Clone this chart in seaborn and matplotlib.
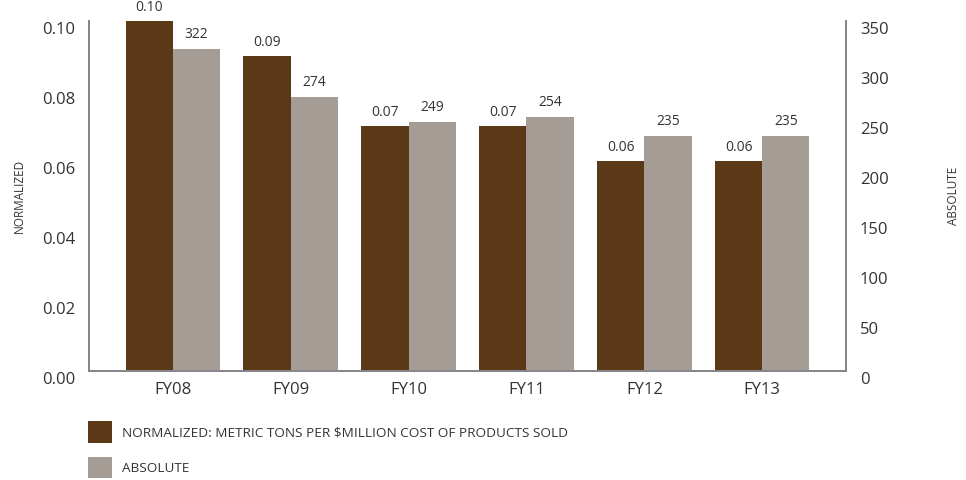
import matplotlib
matplotlib.use("Agg")
import matplotlib.pyplot as plt
import matplotlib.transforms as mtransforms
from matplotlib.patches import Patch
import pandas as pd
import seaborn as sns

years = ["FY08", "FY09", "FY10", "FY11", "FY12", "FY13"]
normalized = [0.10, 0.09, 0.07, 0.07, 0.06, 0.06]
absolute = [322, 274, 249, 254, 235, 235]
normalized_labels = ["0.10", "0.09", "0.07", "0.07", "0.06", "0.06"]
absolute_labels = ["322", "274", "249", "254", "235", "235"]
left_ticks = [0.00, 0.02, 0.04, 0.06, 0.08, 0.10]
right_ticks = [0, 50, 100, 150, 200, 250, 300, 350]

NORM = "NORMALIZED: METRIC TONS PER $MILLION COST OF PRODUCTS SOLD"
ABS = "ABSOLUTE"
BROWN = "#5c3916"
GRAY = "#a59c96"
SPINE = "#85858b"
TEXT = "#333333"

sns.set_theme(style="white")
plt.rcParams["font.family"] = ["Open Sans", "DejaVu Sans"]
plt.rcParams["text.color"] = TEXT

df_norm = pd.DataFrame({"year": years, "value": normalized, "series": NORM})
df_abs = pd.DataFrame({"year": years, "value": absolute, "series": ABS})

fig = plt.figure(figsize=(9.66, 4.8), dpi=100)
ax = fig.add_axes([89 / 966, 1 - 371 / 480, 757 / 966, 350 / 480])
ax2 = ax.twinx()

palette = {NORM: BROWN, ABS: GRAY}
common = dict(x="year", y="value", hue="series", hue_order=[NORM, ABS], palette=palette,
              width=0.8, gap=0, dodge=True, legend=False, saturation=1, errorbar=None,
              linewidth=0)
sns.barplot(data=df_norm, ax=ax, **common)
sns.barplot(data=df_abs, ax=ax2, **common)

ax.set_ylim(0, 0.10)
ax2.set_ylim(0, 350)
ax.set_xlim(-0.71, 5.71)

ax.set_yticks(left_ticks)
ax.set_yticklabels([f"{t:.2f}" for t in left_ticks])
ax2.set_yticks(right_ticks)
ax2.set_yticklabels([str(t) for t in right_ticks])


def filled(containers):
    return [c for c in containers if len(c) > 0 and all(p is not None for p in c)]


for c in filled(ax.containers):
    ax.bar_label(c, labels=normalized_labels, padding=4, fontsize=10, color=TEXT)
for c in filled(ax2.containers):
    ax2.bar_label(c, labels=absolute_labels, padding=5, fontsize=10, color=TEXT)

ax.tick_params(axis="y", length=0, pad=10, labelsize=12, labelcolor=TEXT)
ax2.tick_params(axis="y", length=0, pad=10, labelsize=12, labelcolor=TEXT)
ax.tick_params(axis="x", length=0, pad=8, labelsize=12, labelcolor=TEXT)

shift = mtransforms.ScaledTranslation(0, -6.5 / 100, fig.dpi_scale_trans)
for lab in ax.get_yticklabels() + ax2.get_yticklabels():
    lab.set_transform(lab.get_transform() + shift)

ax.set_xlabel("")
ax.set_ylabel("NORMALIZED", fontsize=8.5, color=TEXT)
ax2.set_ylabel("ABSOLUTE", fontsize=8.5, color=TEXT, rotation=90)
ax.yaxis.set_label_coords(-0.083, 0.5)
ax2.yaxis.set_label_coords(1.133, 0.5)

for a in (ax, ax2):
    a.spines["top"].set_visible(False)
    for s in ("left", "bottom", "right"):
        a.spines[s].set_color(SPINE)
        a.spines[s].set_linewidth(1.3)
    a.grid(False)

handles = [Patch(facecolor=BROWN, edgecolor="none", label=NORM),
           Patch(facecolor=GRAY, edgecolor="none", label=ABS)]
fig.legend(handles=handles, loc="upper left", bbox_to_anchor=(83 / 966, 1 - 416 / 480),
           frameon=False, fontsize=9.7, handlelength=1.75, handleheight=2.05,
           labelspacing=1.05, handletextpad=0.75, borderaxespad=0)

fig.savefig("out.png", dpi=100)
